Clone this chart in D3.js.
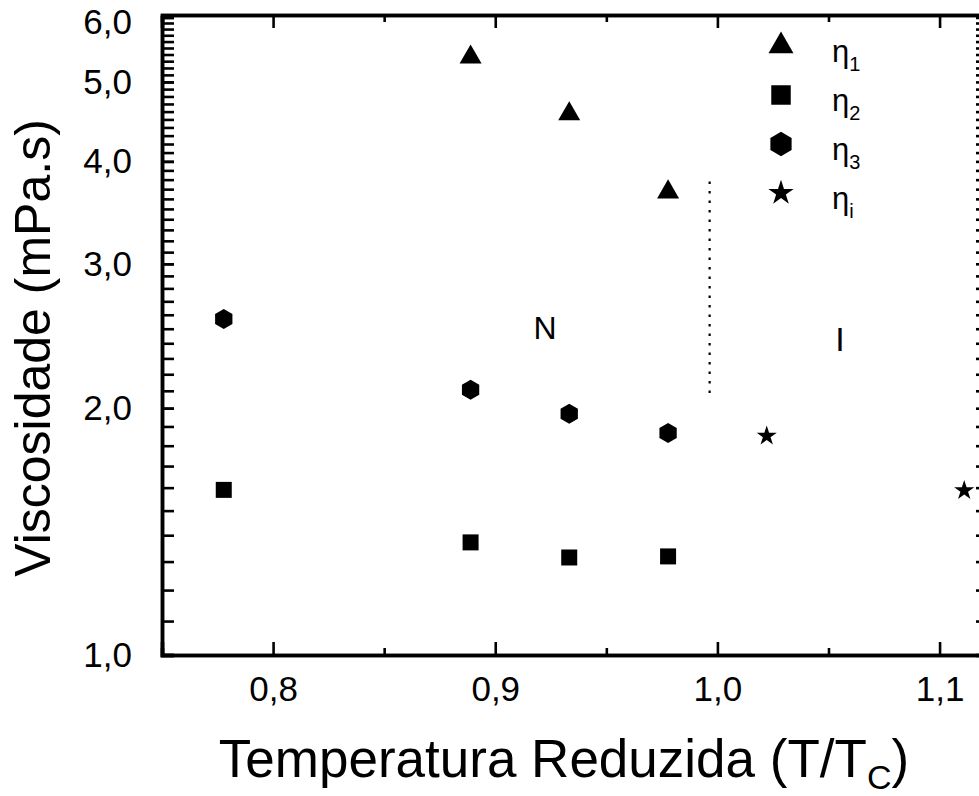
<!DOCTYPE html>
<html>
<head>
<meta charset="utf-8">
<script src="https://cdn.jsdelivr.net/npm/d3@7"></script>
<style>
    body { margin: 0; background: #fff; }
    svg { display: block; font-family: 'Liberation Sans', Arial, sans-serif; }
</style>
</head>
<body>
<svg id="chart" width="979" height="796"></svg>
<script>
// reduced temperature (T/Tc) for each series
const xNematic = [0.7778, 0.8889, 0.9333, 0.9778];
const xEta1 = [0.8889, 0.9333, 0.9778];
const xIso = [1.0222, 1.1111];

// viscosities in mPa.s
const eta1 = [5.36, 4.57, 3.67];
const eta2 = [1.59, 1.372, 1.315, 1.319];
const eta3 = [2.57, 2.106, 1.969, 1.866];
const etaI = [1.85, 1.587];

const xMajorTicks = [0.8, 0.9, 1.0, 1.1];
const xMinorTicks = [0.75, 0.85, 0.95, 1.05, 1.15];
const yMajorTicks = [1, 2, 3, 4, 5, 6];
const yMinorTicks = d3.range(10, 61).map(v => v / 10);

// N/I transition marker
const transitionX = [0.9965, 0.9965];
const transitionY = [3.78, 2.05];

const legendNames = ['1', '2', '3', 'i'];

const margin = {left: 162, right: 984, top: 15, bottom: 655};
const svg = d3.select('#chart');

const xScale = d3.scaleLinear()
    .domain([0.75, 1.12])
    .range([margin.left, margin.right]);

const yScale = d3.scaleLog()
    .domain([1, 6])
    .range([margin.bottom, margin.top + 2]);

const commaFmt = v => d3.format('.1f')(v).replace('.', ',');

// hexagon with vertices at top and bottom
const symbolHexagon = {
    draw(context, size) {
        const r = Math.sqrt(size);
        for (let i = 0; i < 6; i++) {
            const a = Math.PI / 2 + i * Math.PI / 3;
            const px = r * Math.cos(a), py = r * Math.sin(a);
            if (i === 0) context.moveTo(px, py); else context.lineTo(px, py);
        }
        context.closePath();
    }
};

const styleAxis = (g, width) => {
    g.select('.domain').attr('stroke-width', width).attr('stroke', '#000');
    g.selectAll('.tick line').attr('stroke-width', 2.6).attr('stroke', '#000');
    g.selectAll('.tick text')
        .attr('font-size', 35)
        .attr('fill', '#000');
};

// x axes (bottom with labels, top mirrored)
const bottomMinor = svg.append('g')
    .attr('transform', `translate(0, ${margin.bottom})`)
    .call(d3.axisBottom(xScale).tickValues(xMinorTicks).tickSize(-7).tickFormat(''));
styleAxis(bottomMinor, 3.5);
const bottomMajor = svg.append('g')
    .attr('transform', `translate(0, ${margin.bottom})`)
    .call(d3.axisBottom(xScale).tickValues(xMajorTicks).tickSize(-13).tickPadding(21).tickFormat(commaFmt));
styleAxis(bottomMajor, 3.5);

const topMinor = svg.append('g')
    .attr('transform', `translate(0, ${margin.top})`)
    .call(d3.axisTop(xScale).tickValues(xMinorTicks).tickSize(-7).tickFormat(''));
styleAxis(topMinor, 3.5);
const topMajor = svg.append('g')
    .attr('transform', `translate(0, ${margin.top})`)
    .call(d3.axisTop(xScale).tickValues(xMajorTicks).tickSize(-13).tickFormat(''));
styleAxis(topMajor, 3.5);

// y axes (left with labels, right mirrored)
const leftMinor = svg.append('g')
    .attr('transform', `translate(${margin.left}, 0)`)
    .call(d3.axisLeft(yScale).tickValues(yMinorTicks).tickSize(-12).tickFormat(''));
styleAxis(leftMinor, 3.5);
const leftMajor = svg.append('g')
    .attr('transform', `translate(${margin.left}, 0)`)
    .call(d3.axisLeft(yScale).tickValues(yMajorTicks).tickSize(-12).tickPadding(30).tickFormat(commaFmt));
styleAxis(leftMajor, 3.5);
// top label sits a little lower so it stays inside the page
leftMajor.selectAll('.tick text').filter(d => d === 6).attr('dy', '0.48em');

const rightMinor = svg.append('g')
    .attr('transform', `translate(${margin.right + 3}, 0)`)
    .call(d3.axisRight(yScale).tickValues(yMinorTicks).tickSize(-11).tickFormat(''));
styleAxis(rightMinor, 3.5);

// axis titles
svg.append('text')
    .attr('transform', `translate(50, 348) rotate(-90)`)
    .attr('text-anchor', 'middle')
    .attr('font-size', 50)
    .attr('fill', '#000')
    .text('Viscosidade (mPa.s)');

const xTitle = svg.append('text')
    .attr('x', 564)
    .attr('y', 777)
    .attr('text-anchor', 'middle')
    .attr('font-size', 53)
    .attr('fill', '#000');
xTitle.append('tspan').text('Temperatura Reduzida (T/T');
xTitle.append('tspan').attr('font-size', 34).attr('dy', 12).text('C');
xTitle.append('tspan').attr('dy', -12).text(')');

// transition line
svg.append('line')
    .attr('x1', xScale(transitionX[0]))
    .attr('y1', yScale(transitionY[0]))
    .attr('x2', xScale(transitionX[1]))
    .attr('y2', yScale(transitionY[1]))
    .attr('stroke', '#000')
    .attr('stroke-width', 2.2)
    .attr('stroke-dasharray', '2.5,7');

// phase labels
svg.append('text')
    .attr('x', xScale(0.9224))
    .attr('y', yScale(2.505))
    .attr('dy', '0.35em')
    .attr('text-anchor', 'middle')
    .attr('font-size', 32)
    .attr('fill', '#000')
    .text('N');
svg.append('text')
    .attr('x', xScale(1.0552))
    .attr('y', yScale(2.43))
    .attr('dy', '0.35em')
    .attr('text-anchor', 'middle')
    .attr('font-size', 34)
    .attr('fill', '#000')
    .text('I');

const series = [
    {xs: xEta1, ys: eta1, type: d3.symbolTriangle, size: 210, legendSize: 270},
    {xs: xNematic, ys: eta2, type: d3.symbolSquare, size: 256, legendSize: 380},
    {xs: xNematic, ys: eta3, type: symbolHexagon, size: 100, legendSize: 150},
    {xs: xIso, ys: etaI, type: d3.symbolStar, size: 125, legendSize: 200}
];

series.forEach(s => {
    svg.append('g')
        .selectAll('path')
        .data(s.ys)
        .enter()
        .append('path')
        .attr('transform', (d, i) => `translate(${xScale(s.xs[i])}, ${yScale(d)})`)
        .attr('d', d3.symbol().type(s.type).size(s.size))
        .attr('fill', '#000');
});

// legend
const legend = svg.append('g').attr('transform', 'translate(781, 46)');
const legendRows = legend.selectAll('g')
    .data(series)
    .enter()
    .append('g')
    .attr('transform', (_, i) => `translate(0, ${i * 49})`);

legendRows.append('path')
    .attr('d', d => d3.symbol().type(d.type).size(d.legendSize)())
    .attr('fill', '#000');

const legendText = legendRows.append('text')
    .attr('x', 51)
    .attr('y', 16)
    .attr('font-size', 31)
    .attr('fill', '#000');
legendText.append('tspan').text('\u03B7');
legendText.append('tspan')
    .attr('font-size', 20)
    .attr('dy', 9)
    .text((_, i) => legendNames[i]);
</script>
</body>
</html>
